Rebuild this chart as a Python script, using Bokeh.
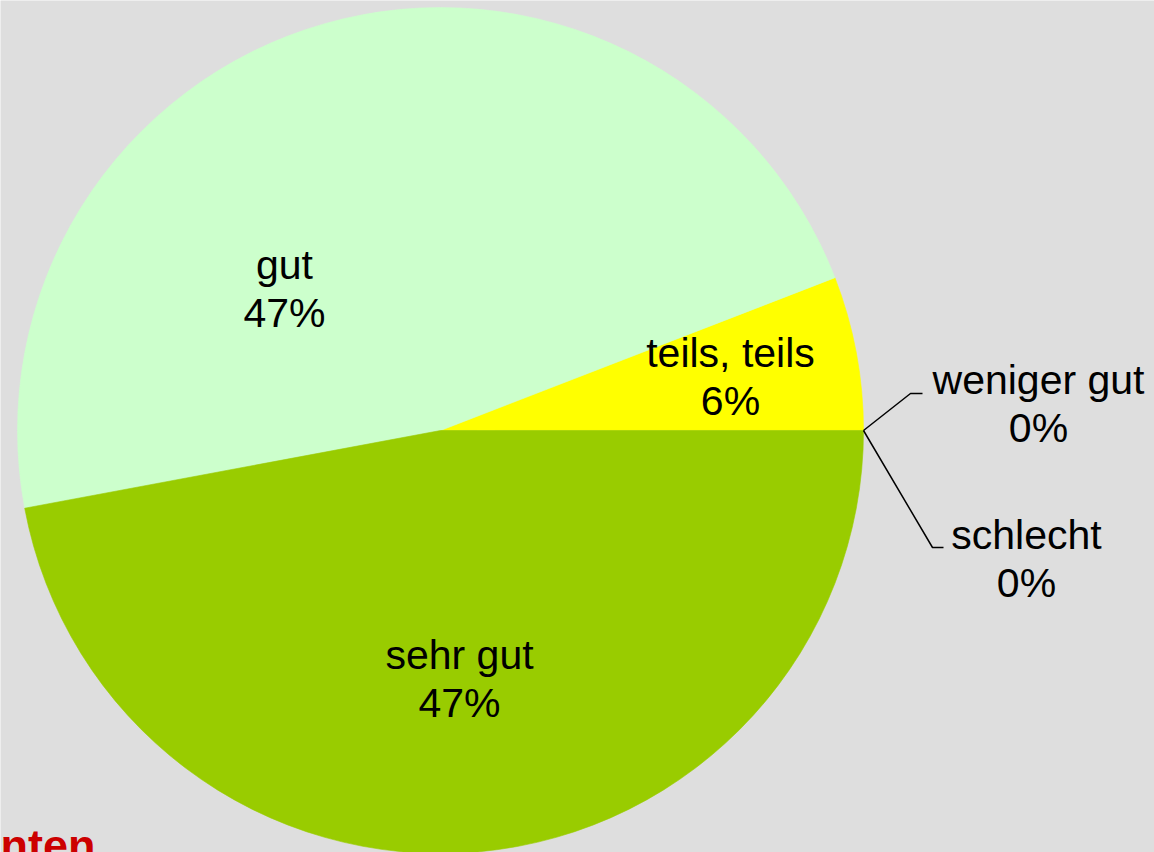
import numpy as np
from bokeh.plotting import figure
from bokeh.models import Range1d, ColumnDataSource
from bokeh.core.properties import value
from bokeh.embed import file_html
from bokeh.resources import INLINE

# ---- data ----
categories = ["teils, teils", "gut", "sehr gut", "weniger gut", "schlecht"]
counts = [1, 8, 8, 0, 0]
colors = ["#ffff00", "#ccffcc", "#99cc00", "#993366", "#ff8080"]
footer_text = "nten"

# ---- layout (pixels, page coordinates) ----
W, H = 1154, 852
CX, CY_PX, R = 440, 430, 423
# label anchors: (center x, baseline y of name line) in page pixels
label_pos = [(730, 352), (284, 264), (459, 654), (1038, 379), (1026, 534)]
line_gap = 48
# leader-line bends for small slices (page pixels): (bend x, bend y, end x)
leaders = {3: (910, 393, 922), 4: (932, 547, 943)}

BG = "#dedede"
FONT = value("Liberation Sans")

def py(y):
    return H - y

total = float(sum(counts))
fracs = [c / total for c in counts]
ends = np.cumsum(fracs) * 2 * np.pi
starts = np.concatenate([[0.0], ends[:-1]])
pcts = ["%d%%" % round(100 * f) for f in fracs]

p = figure(width=W, height=H, x_range=Range1d(0, W), y_range=Range1d(0, H),
           output_backend="svg", toolbar_location=None, min_border=0)
p.axis.visible = False
p.grid.visible = False
p.outline_line_color = None
p.background_fill_color = BG
p.border_fill_color = BG

cy = py(CY_PX)
idx = [i for i, c in enumerate(counts) if c > 0]
src = ColumnDataSource(dict(
    start=[starts[i] for i in idx],
    end=[ends[i] for i in idx],
    color=[colors[i] for i in idx],
))
p.wedge(x=CX, y=cy, radius=R, start_angle="start", end_angle="end",
        fill_color="color", line_color="color", line_width=0.6, source=src)

# labels
names_x = [lp[0] for lp in label_pos]
names_y = [py(lp[1]) for lp in label_pos]
pct_y = [py(lp[1] + line_gap) for lp in label_pos]
p.text(x=names_x, y=names_y, text=categories, text_font=FONT,
       text_font_size="41px", text_align="center", text_baseline="alphabetic",
       text_color="black")
p.text(x=names_x, y=pct_y, text=pcts, text_font=FONT,
       text_font_size="41px", text_align="center", text_baseline="alphabetic",
       text_color="black")

# leader lines for the zero slices
for i, (bx, by, ex) in leaders.items():
    a = starts[i]
    sx = CX + R * np.cos(a)
    sy = cy + R * np.sin(a)
    p.line(x=[sx, bx, ex], y=[sy, py(by), py(by)], line_color="black", line_width=1.5)

# footer text (partly outside the page, as in the reference)
p.text(x=[0], y=[py(845)], text=[footer_text], text_font=FONT,
       text_font_size="45px", text_font_style="bold", text_color="#cc0000",
       text_align="left", text_baseline="alphabetic")

html = file_html(p, INLINE)
html = html.replace("<body>", '<body style="margin:0;background:%s;overflow:hidden">' % BG, 1)
open("out.html", "w").write(html)
